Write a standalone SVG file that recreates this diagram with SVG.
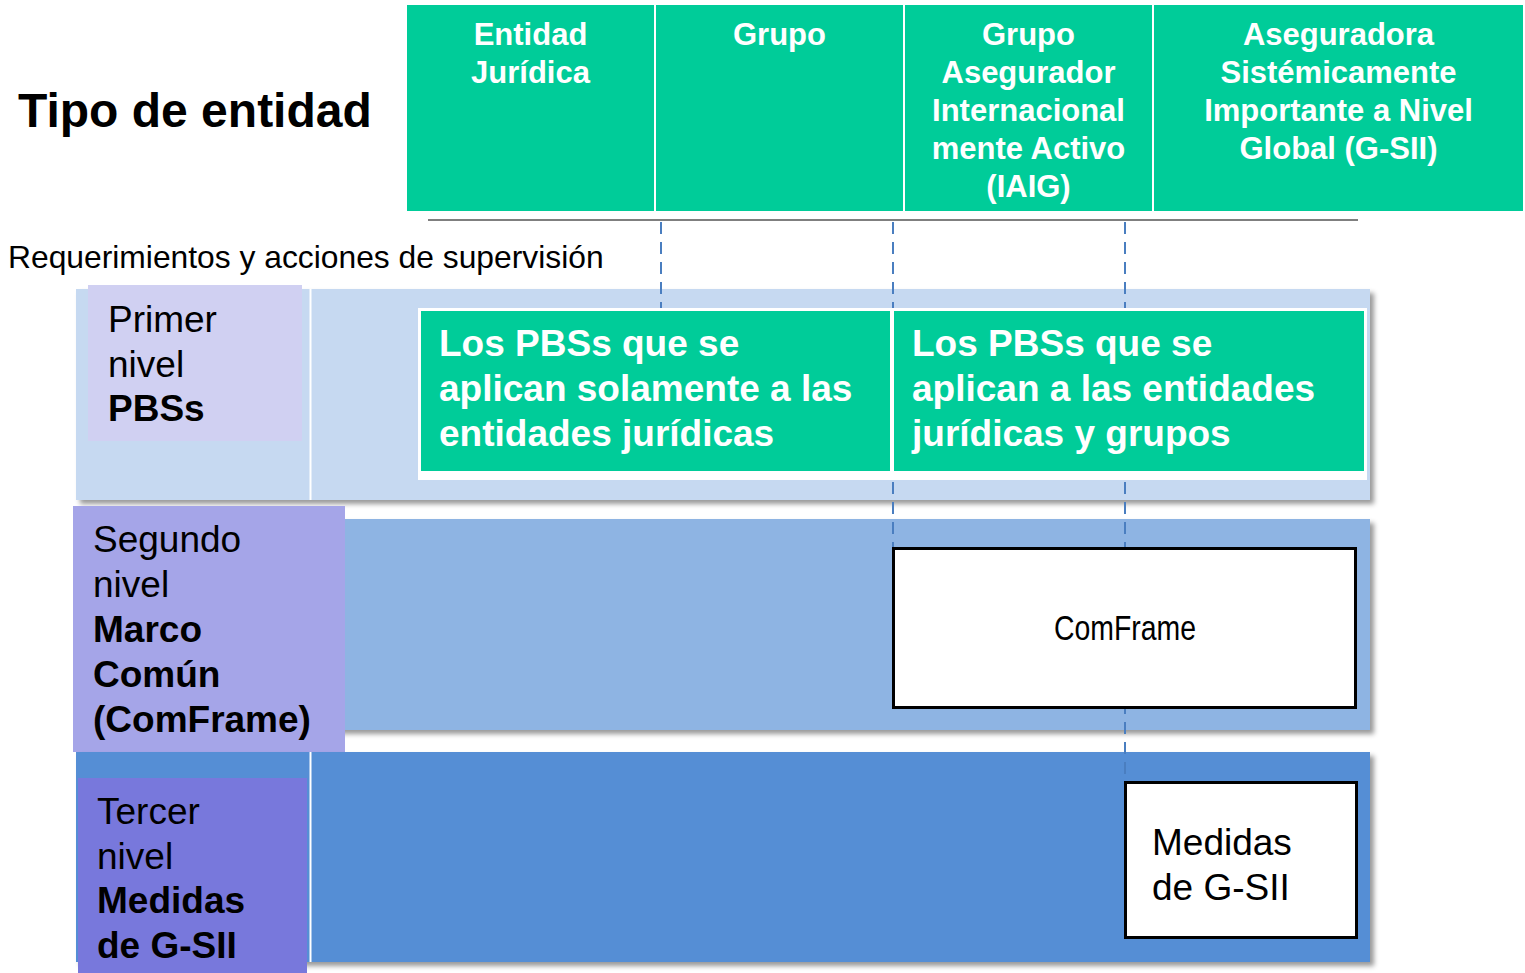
<svg xmlns="http://www.w3.org/2000/svg" width="1525" height="973" viewBox="0 0 1525 973">
<style>
text{font-family:"Liberation Sans",Arial,sans-serif}
.hd{fill:#00CC99}
.ht{font-size:31px;font-weight:bold;fill:#fff;text-anchor:middle}
.lt{font-size:37px;fill:#000}
.b{font-weight:bold}
.gt{font-size:37px;font-weight:bold;fill:#fff}
.dash{stroke:#4A7EC0;stroke-width:2;stroke-dasharray:12 8;fill:none}
.box{fill:#fff;stroke:#000;stroke-width:3}
</style>
<defs>
<filter id="sh" x="-5%" y="-5%" width="112%" height="115%">
<feDropShadow dx="4" dy="4" stdDeviation="2.5" flood-color="#000" flood-opacity="0.4"/>
</filter>
</defs>
<rect width="1525" height="973" fill="#fff"/>

<g id="title">
<text x="18" y="127" font-size="48" font-weight="bold" fill="#000">Tipo de entidad</text>
</g>

<g id="header">
<rect class="hd" x="407" y="5" width="247" height="206"/>
<rect class="hd" x="656" y="5" width="247" height="206"/>
<rect class="hd" x="905" y="5" width="247" height="206"/>
<rect class="hd" x="1154" y="5" width="369" height="206"/>
<text class="ht" x="530.5" y="45">Entidad</text>
<text class="ht" x="530.5" y="83">Jurídica</text>
<text class="ht" x="779.5" y="45">Grupo</text>
<text class="ht" x="1028.5" y="45">Grupo</text>
<text class="ht" x="1028.5" y="83">Asegurador</text>
<text class="ht" x="1028.5" y="121">Internacional</text>
<text class="ht" x="1028.5" y="159">mente Activo</text>
<text class="ht" x="1028.5" y="197">(IAIG)</text>
<text class="ht" x="1338.5" y="45">Aseguradora</text>
<text class="ht" x="1338.5" y="83">Sistémicamente</text>
<text class="ht" x="1338.5" y="121">Importante a Nivel</text>
<text class="ht" x="1338.5" y="159">Global (G-SII)</text>
<line x1="428" y1="220" x2="1358" y2="220" stroke="#7f7f7f" stroke-width="2"/>
</g>

<g id="subtitle">
<text x="8" y="268" font-size="31.8" fill="#000">Requerimientos y acciones de supervisión</text>
</g>

<g id="band1">
<rect x="76" y="289" width="1294" height="211" fill="#C6D9F1" filter="url(#sh)"/>
<line x1="310.5" y1="289" x2="310.5" y2="500" stroke="#fff" stroke-width="2"/>
<rect x="88" y="285" width="214" height="156" fill="#D0D0F2"/>
<text class="lt" x="108" y="332">Primer</text>
<text class="lt" x="108" y="377">nivel</text>
<text class="lt b" x="108" y="421">PBSs</text>
</g>

<g id="band2">
<rect x="76" y="519" width="1294" height="211" fill="#8EB4E3" filter="url(#sh)"/>
<rect x="73" y="506" width="272" height="246" fill="#A5A5E8"/>
<text class="lt" x="93" y="552">Segundo</text>
<text class="lt" x="93" y="597">nivel</text>
<text class="lt b" x="93" y="642">Marco</text>
<text class="lt b" x="93" y="687">Común</text>
<text class="lt b" x="93" y="732">(ComFrame)</text>
</g>

<g id="band3">
<rect x="76" y="752" width="1294" height="210" fill="#558ED5" filter="url(#sh)"/>
<line x1="310.5" y1="752" x2="310.5" y2="962" stroke="#fff" stroke-width="2"/>
<rect x="78" y="778" width="229" height="195" fill="#7878DC"/>
<text class="lt" x="97" y="824">Tercer</text>
<text class="lt" x="97" y="869">nivel</text>
<text class="lt b" x="97" y="913">Medidas</text>
<text class="lt b" x="97" y="958">de G-SII</text>
</g>

<g id="connectors">
<line class="dash" x1="661" y1="222" x2="661" y2="308"/>
<line class="dash" x1="893" y1="222" x2="893" y2="548"/>
<line class="dash" x1="1125" y1="222" x2="1125" y2="782"/>
</g>

<g id="pbs">
<rect x="418" y="308" width="949" height="172" fill="#fff"/>
<rect class="hd" x="421" y="311" width="469" height="160"/>
<rect class="hd" x="894" y="311" width="470" height="160"/>
<text class="gt" x="439" y="356">Los PBSs que se</text>
<text class="gt" x="439" y="401">aplican solamente a las</text>
<text class="gt" x="439" y="446">entidades jurídicas</text>
<text class="gt" x="912" y="356">Los PBSs que se</text>
<text class="gt" x="912" y="401">aplican a las entidades</text>
<text class="gt" x="912" y="446">jurídicas y grupos</text>
</g>

<g id="comframe">
<rect class="box" x="893.5" y="548.5" width="462" height="159"/>
<text x="1125" y="640" font-size="35" fill="#000" text-anchor="middle" textLength="142" lengthAdjust="spacingAndGlyphs">ComFrame</text>
</g>

<g id="gsii">
<rect class="box" x="1125.5" y="782.5" width="231" height="155"/>
<text class="lt" x="1152" y="855">Medidas</text>
<text class="lt" x="1152" y="900">de G-SII</text>
</g>
</svg>
